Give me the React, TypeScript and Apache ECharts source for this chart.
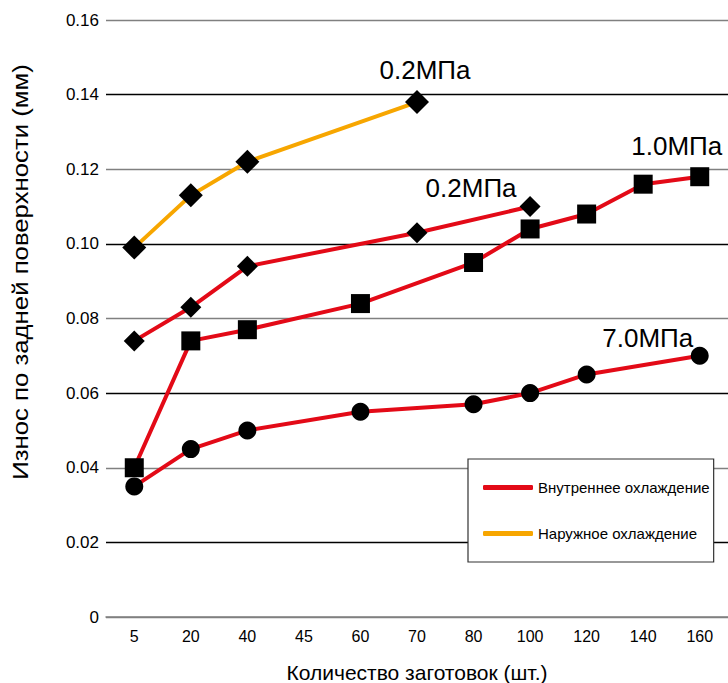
import React, { useEffect, useRef } from "react";
import * as echarts from "echarts";

const categories = ["5", "20", "40", "45", "60", "70", "80", "100", "120", "140", "160"];
const yTicks = [0, 0.02, 0.04, 0.06, 0.08, 0.1, 0.12, 0.14, 0.16];

// Наружное охлаждение, 0.2 МПа
const outer02: (number | null)[] = [0.099, 0.113, 0.122, null, null, 0.138, null, null, null, null, null];
// Внутреннее охлаждение, 0.2 МПа
const inner02: (number | null)[] = [0.074, 0.083, 0.094, null, null, 0.103, null, 0.11, null, null, null];
// Внутреннее охлаждение, 1.0 МПа
const inner10: (number | null)[] = [0.04, 0.074, 0.077, null, 0.084, null, 0.095, 0.104, 0.108, 0.116, 0.118];
// Внутреннее охлаждение, 7.0 МПа
const inner70: (number | null)[] = [0.035, 0.045, 0.05, null, 0.055, null, 0.057, 0.06, 0.065, null, 0.07];

const legendNames = ["Внутреннее охлаждение", "Наружное охлаждение"];
const pressureLabels = ["0.2МПа", "0.2МПа", "1.0МПа", "7.0МПа"];

const RED = "#e30a17";
const ORANGE = "#f7a600";
const FONT = '"Liberation Sans", Arial, Helvetica, sans-serif';

function withLabel(values: (number | null)[], idx: number, text: string, offset: number[]) {
  return values.map((v, i) =>
    i === idx
      ? {
          value: v,
          label: {
            show: true,
            formatter: text,
            position: "inside",
            offset,
            fontSize: 26,
            fontFamily: FONT,
            color: "#000",
            align: "center",
            verticalAlign: "middle",
          },
        }
      : v
  );
}

export default function App() {
  const ref = useRef<HTMLDivElement>(null);
  useEffect(() => {
    document.body.style.margin = "0";
    if (!ref.current) return;
    const chart = echarts.init(ref.current, undefined, { renderer: "svg" });
    const lineSeries = (name: string, data: any[], color: string, symbol: string, size: number) => ({
      type: "line",
      name,
      data,
      connectNulls: true,
      symbol,
      symbolSize: size,
      showAllSymbol: true,
      lineStyle: { color, width: 4, cap: "round", join: "round" },
      itemStyle: { color: "#000" },
      emphasis: { disabled: true },
      z: 3,
    });
    chart.setOption({
      animation: false,
      textStyle: { fontFamily: FONT },
      grid: { left: 106, right: -8, top: 20, bottom: 66 },
      xAxis: {
        type: "category",
        data: categories,
        boundaryGap: true,
        axisLine: { show: true, lineStyle: { color: "#808080", width: 1.5 } },
        axisTick: { show: false },
        axisLabel: { fontSize: 16, color: "#000", margin: 11, interval: 0, fontFamily: FONT },
        splitLine: { show: false },
      },
      yAxis: {
        type: "value",
        min: 0,
        max: 0.16,
        interval: 0.02,
        axisLine: { show: false },
        axisTick: { show: false },
        axisLabel: {
          fontSize: 17,
          color: "#000",
          margin: 7,
          fontFamily: FONT,
          formatter: (v: number) => {
            const t = yTicks.find((x) => Math.abs(x - v) < 1e-9);
            return t === 0 ? "0" : (t ?? v).toFixed(2);
          },
        },
        splitLine: { show: true, lineStyle: { color: ["#808080", "#000000"], width: 1.3 } },
      },
      legend: {
        orient: "vertical",
        left: 468,
        top: 459,
        padding: [20, 4, 20, 15],
        itemWidth: 50,
        itemHeight: 5,
        itemGap: 29,
        backgroundColor: "#fff",
        borderColor: "#333",
        borderWidth: 1.2,
        borderRadius: 0,
        selectedMode: false,
        textStyle: { fontSize: 15, lineHeight: 17, color: "#000", fontFamily: FONT },
        data: [
          { name: legendNames[0], icon: "roundRect", itemStyle: { color: RED, borderWidth: 0 } },
          { name: legendNames[1], icon: "roundRect", itemStyle: { color: ORANGE, borderWidth: 0 } },
        ],
      },
      graphic: [
        {
          type: "text",
          x: 20,
          y: 272,
          rotation: Math.PI / 2,
          scaleX: 1.17,
          style: {
            text: "Износ по задней поверхности (мм)",
            fontSize: 22,
            fontFamily: FONT,
            fill: "#000",
            textAlign: "center",
            textVerticalAlign: "middle",
            align: "center",
            verticalAlign: "middle",
          },
        },
        {
          type: "text",
          x: 417,
          y: 672,
          style: {
            text: "Количество заготовок (шт.)",
            fontSize: 21,
            fontFamily: FONT,
            fill: "#000",
            textAlign: "center",
            textVerticalAlign: "middle",
            align: "center",
            verticalAlign: "middle",
          },
        },
      ],
      series: [
        lineSeries(legendNames[0], withLabel(inner02, 7, pressureLabels[1], [-59, -19]), RED, "diamond", 21),
        lineSeries(legendNames[0], withLabel(inner10, 10, pressureLabels[2], [-23, -31]), RED, "rect", 19),
        lineSeries(legendNames[0], withLabel(inner70, 10, pressureLabels[3], [-52, -18]), RED, "circle", 18),
        lineSeries(legendNames[1], withLabel(outer02, 5, pressureLabels[0], [8, -32]), ORANGE, "diamond", 24),
      ],
    });
    return () => chart.dispose();
  }, []);
  return <div ref={ref} style={{ width: 728, height: 683 }} />;
}
